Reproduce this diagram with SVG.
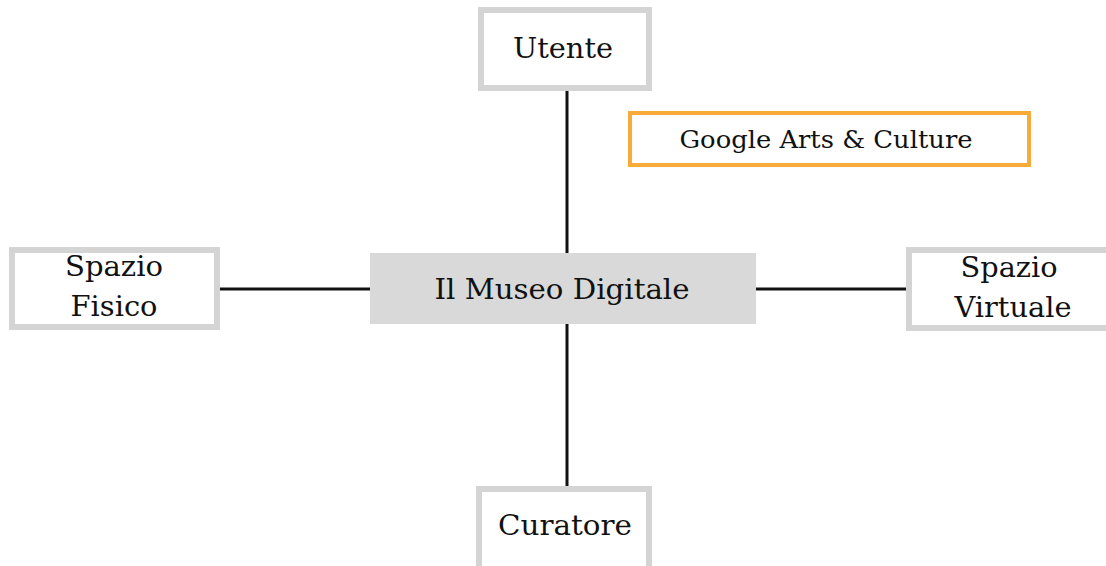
<svg xmlns="http://www.w3.org/2000/svg" width="1106" height="566" viewBox="0 0 1106 566">
<style>
.box{fill:#fff;stroke:#d4d4d4;stroke-width:6}
.t{font-family:"DejaVu Serif","Liberation Serif",serif;font-size:27px;fill:#111;text-anchor:middle}
.con{stroke:#111;stroke-width:3;fill:none}
</style>
<rect width="1106" height="566" fill="#fff"/>
<g id="connectors">
<line class="con" x1="567" y1="91" x2="567" y2="253"/>
<line class="con" x1="567" y1="324" x2="567" y2="486"/>
<line class="con" x1="220" y1="289" x2="370" y2="289"/>
<line class="con" x1="756" y1="289" x2="906" y2="289"/>
</g>
<g id="center">
<rect x="370" y="253" width="386" height="71" fill="#d9d9d9"/>
<text class="t" x="562" y="299" textLength="255" lengthAdjust="spacingAndGlyphs">Il Museo Digitale</text>
</g>
<g id="utente">
<rect class="box" x="481" y="10" width="168" height="78"/>
<text class="t" x="563" y="58" textLength="100" lengthAdjust="spacingAndGlyphs">Utente</text>
</g>
<g id="google">
<rect x="630" y="113" width="399" height="52" fill="#fff" stroke="#f9ab3a" stroke-width="4"/>
<text class="t" x="826" y="148" style="font-size:25px" textLength="293" lengthAdjust="spacingAndGlyphs">Google Arts &amp; Culture</text>
</g>
<g id="fisico">
<rect class="box" x="12" y="250" width="205" height="77"/>
<text class="t" x="114" y="276" textLength="98" lengthAdjust="spacingAndGlyphs">Spazio</text>
<text class="t" x="114" y="316" textLength="87" lengthAdjust="spacingAndGlyphs">Fisico</text>
</g>
<g id="virtuale">
<rect class="box" x="909" y="250" width="200" height="78"/>
<text class="t" x="1009" y="277" textLength="97" lengthAdjust="spacingAndGlyphs">Spazio</text>
<text class="t" x="1013" y="317" textLength="117" lengthAdjust="spacingAndGlyphs">Virtuale</text>
</g>
<g id="curatore">
<rect class="box" x="479" y="489" width="170" height="90"/>
<text class="t" x="565" y="535" textLength="134" lengthAdjust="spacingAndGlyphs">Curatore</text>
</g>
</svg>
